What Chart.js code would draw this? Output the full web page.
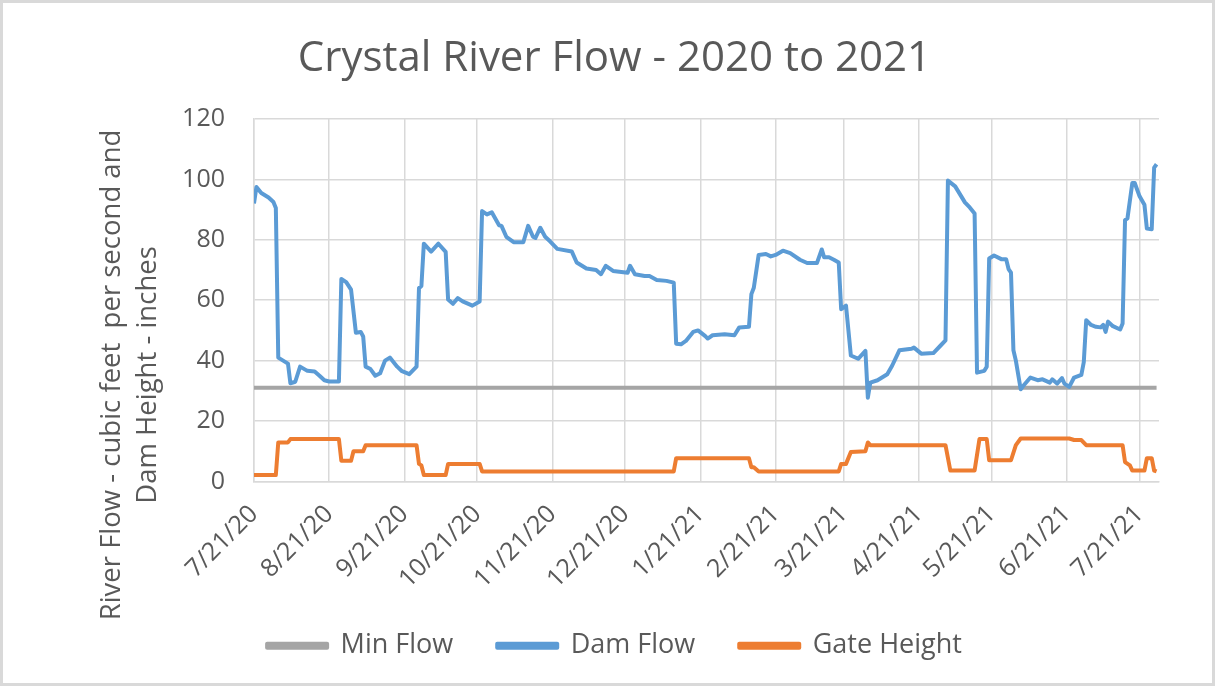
<!DOCTYPE html>
<html>
<head>
<meta charset="utf-8">
<script src="https://cdn.jsdelivr.net/npm/chart.js@4/dist/chart.umd.min.js"></script>
<style>
  html, body { margin: 0; padding: 0; background: #fff; }
  canvas { display: block; }
</style>
</head>
<body>
<canvas id="chart" width="1217" height="687"></canvas>
<script>
// days counted from 7/21/20
const tickLabels = ['7/21/20', '8/21/20', '9/21/20', '10/21/20', '11/21/20', '12/21/20',
    '1/21/21', '2/21/21', '3/21/21', '4/21/21', '5/21/21', '6/21/21', '7/21/21']

const minFlowDays = [0, 372]
const minFlowValues = [31, 31]

const damFlowDays = [0, 1, 3, 6, 8, 9, 10, 12, 14, 15, 17, 19, 22, 25, 27, 29, 31, 35, 36, 38,
    40, 42, 44, 45, 46, 48, 50, 52, 54, 56, 59, 61, 64, 67, 68, 69, 70, 73, 76, 79,
    80, 82, 84, 86, 90, 93, 94, 96, 98, 101, 102, 104, 107, 111, 113, 115, 116, 118, 120, 122,
    125, 131, 133, 137, 141, 143, 145, 148, 154, 155, 157, 161, 163, 166, 170, 173, 174, 176, 178, 181,
    183, 186, 187, 189, 194, 198, 200, 204, 205, 206, 208, 211, 213, 215, 218, 221, 225, 228, 232, 234,
    235, 237, 239, 241, 242, 244, 246, 249, 252, 253, 254, 257, 261, 263, 266, 271, 272, 275, 280, 283,
    285, 286, 289, 293, 295, 297, 298, 301, 302, 303, 305, 308, 310, 311, 312, 313, 314, 316, 317, 320,
    323, 325, 328, 329, 331, 333, 334, 336, 338, 341, 342, 343, 345, 347, 349, 350, 351, 352, 354, 357,
    358, 359, 360, 362, 363, 365, 367, 368, 370, 371, 372]
const damFlowValues = [92, 97.5, 95.5, 94, 92.5, 90.5, 41, 40, 39, 32.5, 33, 38, 36.6, 36.4, 35, 33.5, 33.1, 33.1, 67, 66,
    63.5, 49.2, 49.5, 48, 38, 37.2, 35, 35.8, 40, 41, 38, 36.5, 35.5, 38, 64, 64.7, 78.7, 76.1, 78.7, 76,
    60.2, 58.8, 60.7, 59.6, 58.2, 59.6, 89.5, 88.4, 89.1, 84.8, 84.6, 81, 79.2, 79.2, 84.6, 81, 80.6, 84, 81, 79.5,
    77, 76.1, 72.5, 70.5, 70, 68.6, 71.4, 69.7, 69.1, 71.4, 68.6, 68, 68, 66.7, 66.4, 65.8, 45.6, 45.4, 46.5, 49.5,
    50, 48.1, 47.3, 48.4, 48.7, 48.4, 51, 51.2, 62, 64.1, 75, 75.3, 74.5, 75, 76.4, 75.6, 73.4, 72.3, 72.3, 76.8,
    74.2, 74.2, 73.4, 72.5, 57, 58.2, 41.7, 40.6, 43.2, 27.7, 32.7, 33.5, 35.5, 38.3, 43.4, 43.9, 44.3, 42.3, 42.5, 45,
    46.7, 99.6, 97.7, 92.4, 90.7, 88.7, 36, 36.6, 38, 73.8, 74.8, 73.6, 73.6, 70.3, 69.1, 43.4, 40, 30.5, 31.6, 34.4,
    33.5, 33.8, 32.7, 33.8, 32.4, 34.2, 32.4, 31.3, 34.4, 35.3, 39.5, 53.4, 51.8, 51.2, 51, 51.8, 49.5, 52.9, 51.4, 50.3,
    52.3, 86.5, 87.1, 98.8, 98.8, 94.4, 91.6, 83.7, 83.5, 103.9, 105]

const gateDays = [0, 9, 10, 14, 15, 35, 36, 40, 41, 45, 46, 67, 68, 69, 70, 79, 80, 93, 94, 173,
    174, 204, 205, 206, 208, 241, 242, 244, 246, 252, 253, 254, 285, 287, 297, 299, 302, 303, 312, 314,
    316, 336, 338, 341, 343, 358, 359, 361, 362, 367, 368, 370, 371, 372]
const gateHeights = [2.1, 2.1, 12.9, 12.9, 14, 14, 6.8, 6.8, 10, 10, 12, 12, 5.8, 5.3, 2.1, 2.1, 5.8, 5.8, 3.3, 3.3,
    7.7, 7.7, 4.7, 4.7, 3.3, 3.3, 5.8, 5.8, 9.7, 10, 12.9, 12, 12, 3.6, 3.6, 14, 14, 7, 7, 12,
    14.2, 14.2, 13.7, 13.7, 12, 12, 6.4, 5.3, 3.6, 3.6, 7.7, 7.7, 3.6, 3.3]

const yTitleLines = ['River Flow - cubic feet  per second and', 'Dam Height - inches']

const FONT = "'Open Sans', 'Noto Sans', sans-serif"
const TEXT_COLOR = '#595959'
const GRID_COLOR = '#d9d9d9'

function toPoints(days, values) {
    return days.map((d, i) => ({ x: d, y: values[i] }))
}

function labelToDay(label) {
    const [m, d, y] = label.split('/').map(Number)
    return (Date.UTC(2000 + y, m - 1, d) - Date.UTC(2020, 6, 21)) / 86400000
}
const tickDays = tickLabels.map(labelToDay)

const frame = {
    id: 'frame',
    beforeDraw(chart) {
        const ctx = chart.ctx
        ctx.save()
        ctx.fillStyle = '#fff'
        ctx.fillRect(0, 0, chart.width, chart.height)
        ctx.strokeStyle = GRID_COLOR
        ctx.lineWidth = 3
        ctx.strokeRect(1.5, 1.5, chart.width - 5, chart.height - 4)
        ctx.restore()
    }
}

// excel centres the value axis title lower than the plot area, so draw it here
const yTitle = {
    id: 'yTitle',
    afterDraw(chart) {
        const ctx = chart.ctx
        ctx.save()
        ctx.fillStyle = TEXT_COLOR
        ctx.font = '27.5px ' + FONT
        ctx.textAlign = 'center'
        ctx.textBaseline = 'middle'
        ctx.translate(112, 375)
        ctx.rotate(-Math.PI / 2)
        yTitleLines.forEach((line, i) => ctx.fillText(line, 0, i * 36))
        ctx.restore()
    }
}

function lineSet(label, data, color, order) {
    return {
        label: label,
        data: data,
        borderColor: color,
        backgroundColor: color,
        borderWidth: 4,
        pointRadius: 0,
        tension: 0,
        fill: false,
        borderJoinStyle: 'round',
        order: order
    }
}

new Chart(document.getElementById('chart'), {
    type: 'line',
    data: {
        datasets: [
            lineSet('Min Flow', toPoints(minFlowDays, minFlowValues), '#a5a5a5', 2),
            lineSet('Dam Flow', toPoints(damFlowDays, damFlowValues), '#5b9bd5', 1),
            lineSet('Gate Height', toPoints(gateDays, gateHeights), '#ed7d31', 0)
        ]
    },
    options: {
        responsive: false,
        animation: false,
        layout: { padding: { top: 0, left: 70, right: 58, bottom: 17.8 } },
        plugins: {
            title: {
                display: true,
                text: 'Crystal River Flow - 2020 to 2021',
                color: TEXT_COLOR,
                font: { family: FONT, size: 42, weight: 'normal', lineHeight: 1.2 },
                padding: { top: 34.3, bottom: 34.3 }
            },
            legend: {
                position: 'bottom',
                labels: {
                    color: TEXT_COLOR,
                    font: { family: FONT, size: 27 },
                    boxWidth: 60,
                    boxHeight: 4,
                    padding: 44,
                    sort: (a, b) => a.datasetIndex - b.datasetIndex
                }
            },
            tooltip: { enabled: false }
        },
        scales: {
            x: {
                type: 'linear',
                min: 0,
                max: 373,
                afterBuildTicks: scale => {
                    scale.ticks = tickDays.map(v => ({ value: v }))
                },
                afterFit: scale => { scale.height = 106.8 },
                ticks: {
                    autoSkip: false,
                    minRotation: 45,
                    maxRotation: 45,
                    padding: 18,
                    color: TEXT_COLOR,
                    font: { family: FONT, size: 25 },
                    callback: (value, index) => tickLabels[index]
                },
                grid: { color: GRID_COLOR, lineWidth: 1.5, drawTicks: false },
                border: { color: GRID_COLOR, width: 1.5 }
            },
            y: {
                min: 0,
                max: 120,
                afterFit: scale => { scale.width = 184 },
                ticks: {
                    stepSize: 20,
                    padding: 29,
                    color: TEXT_COLOR,
                    font: { family: FONT, size: 25 }
                },
                grid: { color: GRID_COLOR, lineWidth: 1.5, drawTicks: false },
                border: { color: GRID_COLOR, width: 1.5 }
            }
        }
    },
    plugins: [frame, yTitle]
})
</script>
</body>
</html>
